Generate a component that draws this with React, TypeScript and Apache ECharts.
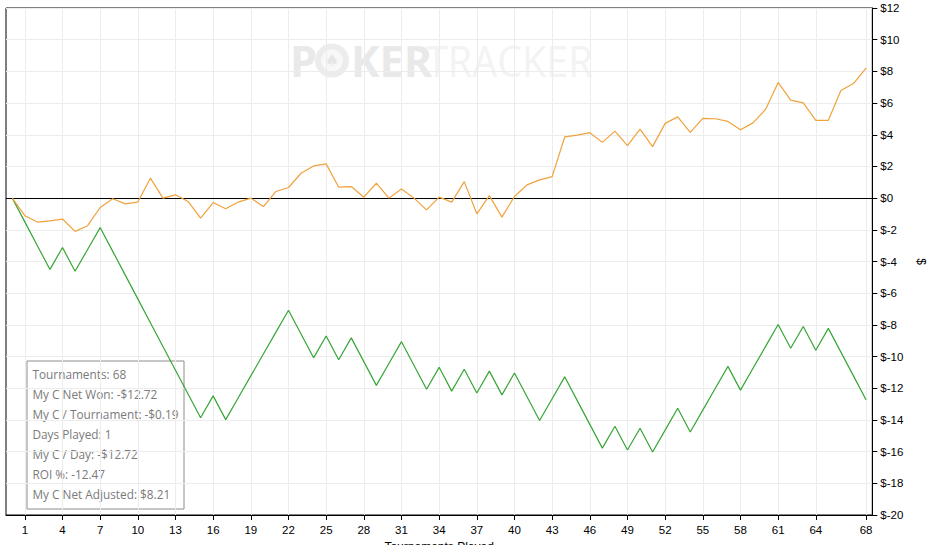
import React, { useEffect, useRef } from 'react';
import * as echarts from 'echarts';

// Tournament index (0 = start)
const tournaments: number[] = Array.from({ length: 69 }, (_, i) => i);

// My C Net Won (cumulative $)
const netWon: number[] = [
  0, -1.5, -3.0, -4.5, -3.12, -4.62, -3.24, -1.86, -3.36, -4.86,
  -6.36, -7.86, -9.36, -10.86, -12.36, -13.86, -12.48, -13.98, -12.6, -11.22,
  -9.84, -8.46, -7.08, -8.58, -10.08, -8.7, -10.2, -8.82, -10.32, -11.82,
  -10.44, -9.06, -10.56, -12.06, -10.68, -12.18, -10.8, -12.3, -10.92, -12.42,
  -11.04, -12.54, -14.04, -12.66, -11.28, -12.78, -14.28, -15.78, -14.4, -15.9,
  -14.52, -16.02, -14.64, -13.26, -14.76, -13.38, -12.0, -10.62, -12.12, -10.74,
  -9.36, -7.98, -9.48, -8.1, -9.6, -8.22, -9.72, -11.22, -12.72,
];

// My C Net Adjusted (cumulative $)
const netAdjusted: number[] = [
  0, -1.11, -1.51, -1.43, -1.32, -2.1, -1.74, -0.59, -0.04, -0.36,
  -0.25, 1.26, 0.0, 0.21, -0.21, -1.26, -0.28, -0.67, -0.25, 0.0,
  -0.53, 0.42, 0.67, 1.57, 2.03, 2.16, 0.69, 0.73, 0.06, 0.94,
  0.0, 0.58, 0.0, -0.74, 0.06, -0.25, 1.04, -0.99, 0.16, -1.2,
  0.1, 0.84, 1.15, 1.36, 3.86, 3.98, 4.13, 3.52, 4.23, 3.31,
  4.36, 3.25, 4.72, 5.13, 4.15, 5.03, 5.01, 4.84, 4.31, 4.75,
  5.6, 7.3, 6.18, 6.01, 4.91, 4.91, 6.79, 7.23, 8.21,
];

const xTickValues: number[] = [1, 4, 7, 10, 13, 16, 19, 22, 25, 28, 31, 34, 37, 40, 43, 46, 49, 52, 55, 58, 61, 64, 68];

const statsLines: string[] = [
  'Tournaments: 68',
  'My C Net Won: -$12.72',
  'My C / Tournament: -$0.19',
  'Days Played: 1',
  'My C / Day: -$12.72',
  'ROI %: -12.47',
  'My C Net Adjusted: $8.21',
];

const ORANGE = '#f0a23c';
const GREEN = '#36a536';
const AXIS_FONT = '"Liberation Sans", Arial, sans-serif';

export default function App() {
  const ref = useRef<HTMLDivElement>(null);

  useEffect(() => {
    if (!ref.current) return;
    const chart = echarts.init(ref.current, undefined, { renderer: 'svg' });

    const statsTexts = statsLines.map((line, i) => ({
      type: 'text',
      x: 5.5,
      y: 13 + i * 20,
      style: {
        text: line,
        fill: '#7a7a7a',
        font: '11.8px "Open Sans", sans-serif',
        verticalAlign: 'middle',
        align: 'left',
      },
    }));

    chart.setOption({
      animation: false,
      backgroundColor: '#ffffff',
      grid: {
        left: 6,
        right: 56.7,
        top: 8,
        bottom: 30,
        containLabel: false,
        outerBoundsMode: 'none',
        show: true,
        borderColor: '#000',
        borderWidth: 1,
        backgroundColor: 'transparent',
      },
      xAxis: {
        type: 'value',
        min: -0.5,
        max: 68.5,
        name: 'Tournaments Played',
        nameLocation: 'middle',
        nameGap: 26,
        nameTextStyle: { color: '#000', fontSize: 12, fontFamily: AXIS_FONT },
        axisLine: { show: true, onZero: false, lineStyle: { color: '#000', width: 1 } },
        axisTick: { show: true, length: 5, lineStyle: { color: '#000' }, customValues: xTickValues },
        axisLabel: {
          customValues: xTickValues,
          color: '#000',
          fontSize: 11.5,
          fontFamily: AXIS_FONT,
          margin: 9,
          formatter: (v: number) => String(v),
        },
        splitLine: { show: true, lineStyle: { color: '#ececec', width: 1 } },
      },
      yAxis: {
        type: 'value',
        position: 'right',
        min: -20,
        max: 12,
        interval: 2,
        name: '$',
        nameLocation: 'middle',
        nameGap: 43,
        nameRotate: -90,
        nameTextStyle: { color: '#000', fontSize: 12, fontFamily: AXIS_FONT },
        axisLine: { show: true, onZero: false, lineStyle: { color: '#000', width: 1 } },
        axisTick: { show: true, length: 5, inside: false, lineStyle: { color: '#000' } },
        axisLabel: {
          color: '#000',
          fontSize: 11.5,
          fontFamily: AXIS_FONT,
          margin: 8,
          formatter: (v: number) => '$' + v,
        },
        splitLine: { show: true, lineStyle: { color: '#ececec', width: 1 } },
      },
      graphic: [
        {
          type: 'group',
          left: 290,
          top: 39,
          z: 0,
          silent: true,
          children: [
            {
              type: 'text',
              x: 0,
              y: 18,
              style: { text: 'P', fill: '#e9e9e9', font: 'bold 43px "Open Sans", sans-serif', verticalAlign: 'middle' },
            },
            {
              type: 'circle',
              shape: { cx: 42, cy: 18, r: 17 },
              style: { fill: '#ececec' },
            },
            {
              type: 'circle',
              shape: { cx: 42, cy: 18, r: 11 },
              style: { fill: '#f8f8f8' },
            },
            {
              type: 'text',
              x: 42,
              y: 18,
              style: { text: '♠', fill: '#e6e6e6', font: '16px "DejaVu Sans", sans-serif', align: 'center', verticalAlign: 'middle' },
            },
            {
              type: 'text',
              x: 61,
              y: 18,
              style: { text: 'KER', fill: '#e9e9e9', font: 'bold 43px "Open Sans", sans-serif', verticalAlign: 'middle' },
            },
            {
              type: 'text',
              x: 136,
              y: 18,
              scaleX: 0.92,
              style: { text: 'TRACKER', fill: '#f3f3f3', font: '43px "Open Sans", sans-serif', verticalAlign: 'middle' },
            },
          ],
        },
        {
          type: 'group',
          left: 26.5,
          top: 360.5,
          z: 100,
          children: [
            {
              type: 'rect',
              shape: { x: 0, y: 0, width: 157, height: 148 },
              style: { fill: 'rgba(255,255,255,0.6)', stroke: '#8c8c8c', lineWidth: 1 },
            },
            ...statsTexts,
          ],
        },
      ],
      series: [
        {
          name: 'My C Net Won',
          type: 'line',
          data: tournaments.map((t, i) => [t, netWon[i]]),
          showSymbol: false,
          symbol: 'none',
          lineStyle: { color: GREEN, width: 1.2 },
          itemStyle: { color: GREEN },
          z: 3,
          markLine: {
            silent: true,
            symbol: 'none',
            label: { show: false },
            lineStyle: { color: '#000', width: 1, type: 'solid' },
            data: [{ yAxis: 0 }],
            z: 2,
          },
        },
        {
          name: 'My C Net Adjusted',
          type: 'line',
          data: tournaments.map((t, i) => [t, netAdjusted[i]]),
          showSymbol: false,
          symbol: 'none',
          lineStyle: { color: ORANGE, width: 1.2 },
          itemStyle: { color: ORANGE },
          z: 4,
        },
      ],
    });

    return () => {
      chart.dispose();
    };
  }, []);

  return (
    <div
      ref={ref}
      style={{ position: 'absolute', left: 0, top: 0, width: 929, height: 545, background: '#fff' }}
    />
  );
}
